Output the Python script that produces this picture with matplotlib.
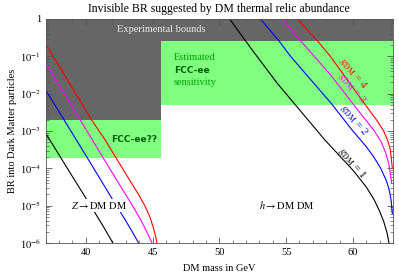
import numpy as np
import matplotlib
matplotlib.use("Agg")
import matplotlib.pyplot as plt
from matplotlib.ticker import FixedLocator, MultipleLocator, FuncFormatter, NullFormatter

plt.rcParams['font.family'] = ['Liberation Serif', 'DejaVu Serif']
plt.rcParams['mathtext.fontset'] = 'stix'

# ---- data: masses in GeV, log10 of BR ----
z_g1_m = [37.0, 39.0, 40.5, 41.3, 42.03]
z_g1_logbr = [-3.06, -4.22, -5.08, -5.55, -6.0]
z_g2_m = [37.0, 40.0, 42.0, 42.9, 43.4, 43.75, 43.95]
z_g2_logbr = [-1.9, -3.65, -4.83, -5.35, -5.65, -5.87, -6.0]
z_g3_m = [37.0, 40.0, 42.0, 43.5, 44.1, 44.5, 44.8, 44.95]
z_g3_logbr = [-1.18, -2.95, -4.13, -5.0, -5.37, -5.65, -5.88, -6.0]
z_g4_m = [37.0, 40.45, 41.45, 43.0, 44.0, 44.45, 44.8, 45.05, 45.2, 45.3, 45.33]
z_g4_logbr = [-0.67, -2.71, -3.24, -4.15, -4.73, -5.02, -5.3, -5.58, -5.78, -5.94, -6.0]

h_g1_m = [50.77, 52.5, 54.33, 57.9, 60.0, 61.0, 61.6, 62.0, 62.3, 62.55, 62.7]
h_g1_logbr = [0.0, -0.85, -1.72, -3.24, -4.05, -4.5, -4.85, -5.15, -5.42, -5.72, -6.0]
h_g2_m = [53.08, 54.45, 55.33, 58.33, 59.95, 61.0, 61.57, 62.08, 62.5, 62.7, 62.85, 62.95]
h_g2_logbr = [0.0, -0.58, -1.0, -2.24, -2.98, -3.42, -3.7, -4.0, -4.33, -4.55, -4.83, -5.21]
h_g3_m = [54.7, 56.07, 58.33, 60.5, 61.57, 62.1, 62.45, 62.7, 62.9]
h_g3_logbr = [0.0, -0.58, -1.5, -2.5, -2.98, -3.28, -3.58, -3.9, -4.4]
h_g4_m = [55.83, 57.33, 58.33, 60.95, 61.8, 62.3, 62.6, 62.8, 62.95]
h_g4_logbr = [0.0, -0.58, -1.01, -2.31, -2.72, -3.0, -3.25, -3.5, -4.0]

# regions: (xmin, xmax, br_low, br_high)
bounds_z = (37.0, 45.6, 2e-3, 1.0)
bounds_h = (45.6, 63.0, 0.26, 1.0)
fcc_z = (37.0, 45.6, 1.9e-4, 2e-3)
fcc_h = (45.6, 63.0, 5e-3, 0.26)

x_ticks = [40, 45, 50, 55, 60]
y_tick_exponents = [-6, -5, -4, -3, -2, -1, 0]
coupling_labels = ['1', '2', '3', '4']
colors = ['black', '#0000ff', '#ff00ff', '#ff0000']

fig = plt.figure(figsize=(3.99, 2.73), dpi=100)
ax = fig.add_axes([45.7/399, 1-243/273, (393-45.7)/399, (243-19)/273])
ax.set_yscale('log')
ax.set_xlim(37, 63)
ax.set_ylim(1e-6, 1)

gray = '#666666'
green = '#80ff80'
for (x0, x1, y0, y1), c in [(bounds_z, gray), (bounds_h, gray), (fcc_z, green), (fcc_h, green)]:
    ax.fill_between([x0, x1], [y0, y0], [y1, y1], color=c, lw=0, zorder=1)

zc = [(z_g1_m, z_g1_logbr), (z_g2_m, z_g2_logbr), (z_g3_m, z_g3_logbr), (z_g4_m, z_g4_logbr)]
hc = [(h_g1_m, h_g1_logbr), (h_g2_m, h_g2_logbr), (h_g3_m, h_g3_logbr), (h_g4_m, h_g4_logbr)]
for (m, l), c in zip(zc, colors):
    ax.plot(m, 10**np.array(l), color=c, lw=0.8, zorder=3)
for (m, l), c in zip(hc, colors):
    ax.plot(m, 10**np.array(l), color=c, lw=0.8, zorder=3)

# texts
ax.text(45.65, 10**-0.27, 'Experimental bounds', color='#e8e8e8', fontsize=7.5,
        ha='center', va='center', zorder=4)
ax.text(46.56, 10**-1.02, 'Estimated', color='#00a000', fontsize=7.5, ha='left', va='center', zorder=4)
ax.text(46.6, 10**-1.37, 'FCC-ee', color='#006000', fontsize=6.5, ha='left', va='center',
        fontweight='bold', family='DejaVu Sans', zorder=4)
ax.text(46.56, 10**-1.71, 'sensitivity', color='#00a000', fontsize=7.5, ha='left', va='center', zorder=4)
ax.text(45.35, 10**-3.23, 'FCC-ee??', color='#006000', fontsize=6.5, ha='right', va='center',
        fontweight='bold', family='DejaVu Sans', zorder=4)

zlab = ax.text(41.0, 10**-4.99, r'$Z \rightarrow \mathrm{DM\ DM}$', fontsize=7.5, ha='center', va='center', zorder=4)
zlab.set_bbox(dict(facecolor='white', edgecolor='none', pad=0.5))
hlab = ax.text(55.03, 10**-4.99, r'$h \rightarrow \mathrm{DM\ DM}$', fontsize=7.5, ha='center', va='center', zorder=4)

glab_pos = [(59.95, -3.86), (60.05, -2.71), (59.95, -1.85), (60.05, -1.45)]
for (gx, gl), c, g in zip(glab_pos, colors, coupling_labels):
    ax.text(gx, 10**gl, r'$g_{\rm DM}$ = ' + g, color=c, fontsize=8, rotation=-50,
            ha='center', va='center', rotation_mode='anchor', zorder=4)

ax.set_title('Invisible BR suggested by DM thermal relic abundance', fontsize=8.5, pad=5)
ax.set_xlabel('DM mass in GeV', fontsize=7.5, labelpad=5)
ax.set_ylabel('BR into Dark Matter particles', fontsize=7.5, labelpad=2)

ax.xaxis.set_major_locator(FixedLocator(x_ticks))
ax.xaxis.set_minor_locator(FixedLocator(list(range(37, 64))))
ax.xaxis.set_minor_formatter(NullFormatter())
ax.yaxis.set_major_locator(FixedLocator([10.0**e for e in y_tick_exponents]))
minor_y = [k * 10.0**e for e in y_tick_exponents[:-1] for k in range(2, 10)]
ax.yaxis.set_minor_locator(FixedLocator(minor_y))
ax.yaxis.set_minor_formatter(NullFormatter())

def yfmt(v, pos):
    e = int(round(np.log10(v)))
    if e == 0:
        return '1'
    return r'$10^{%d}$' % e
ax.yaxis.set_major_formatter(FuncFormatter(yfmt))

ax.tick_params(which='both', direction='in', top=True, right=True, labelsize=7.5, color='#555555')
ax.tick_params(which='major', length=4, width=0.6)
ax.tick_params(which='minor', length=2, width=0.5)
for s in ax.spines.values():
    s.set_color('#555555')
    s.set_linewidth(0.6)
    s.set_zorder(5)

fig.savefig('out.png', dpi=100)
